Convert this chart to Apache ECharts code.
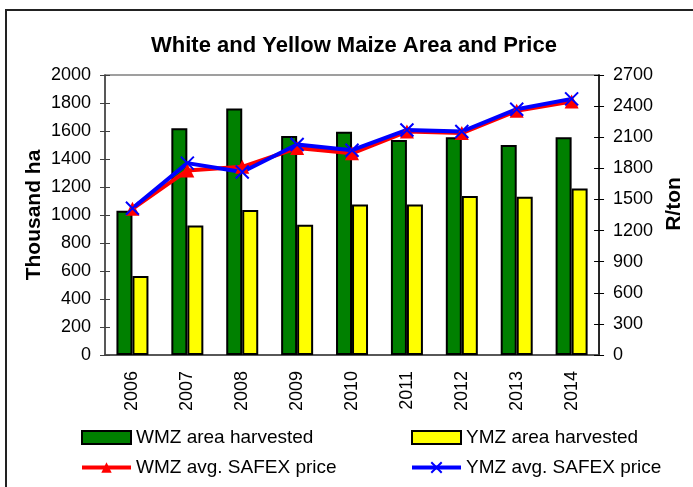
<!DOCTYPE html>
<html>
<head>
<meta charset="utf-8">
<script src="https://cdn.jsdelivr.net/npm/echarts@6/dist/echarts.min.js"></script>
<style>
  html, body { margin: 0; padding: 0; background: #fff; }
  #chart { width: 693px; height: 487px; }
</style>
</head>
<body>
<div id="chart"></div>
<script>
const years = ["2006", "2007", "2008", "2009", "2010", "2011", "2012", "2013", "2014"];
// thousand ha
const wmzArea = [1030, 1620, 1760, 1565, 1595, 1535, 1555, 1500, 1555];
const ymzArea = [565, 925, 1035, 930, 1075, 1075, 1135, 1130, 1190];
// R/ton
const wmzPrice = [1410, 1780, 1815, 1995, 1945, 2155, 2140, 2355, 2445];
const ymzPrice = [1415, 1850, 1765, 2030, 1975, 2170, 2155, 2370, 2470];

const font = "Liberation Sans, Arial, sans-serif";
const crossX = "path://M0,0L10,10M10,0L0,10";
const plain = v => String(v);

const chart = echarts.init(document.getElementById("chart"), null, { renderer: "canvas" });

const legendText = { fontFamily: font, fontSize: 19, color: "#000" };

chart.setOption({
  animation: false,
  backgroundColor: "#fff",
  title: {
    text: "White and Yellow Maize Area and Price",
    left: 349,
    top: 30,
    textAlign: "center",
    textStyle: { fontFamily: font, fontSize: 22, fontWeight: "bold", color: "#000" }
  },
  graphic: [{
    type: "rect",
    shape: { x: 6, y: 10, width: 720, height: 520 },
    style: { fill: null, stroke: "#222", lineWidth: 2 },
    silent: true
  }],
  grid: {
    left: 105, right: 92, top: 75, bottom: 132,
    show: true, borderColor: "#808080", borderWidth: 1.5
  },
  legend: [
    {
      data: [{ name: "WMZ area harvested", icon: "rect" }, "WMZ avg. SAFEX price"],
      orient: "vertical", left: 80, top: 428, padding: 0,
      itemWidth: 49, itemHeight: 13, itemGap: 11,
      lineStyle: { width: 4 },
      textStyle: legendText
    },
    {
      data: [{ name: "YMZ area harvested", icon: "rect" }, "YMZ avg. SAFEX price"],
      orient: "vertical", left: 410, top: 428, padding: 0,
      itemWidth: 49, itemHeight: 13, itemGap: 11,
      lineStyle: { width: 4 },
      textStyle: legendText
    }
  ],
  xAxis: [
    {
      type: "category", data: years, position: "bottom",
      axisLine: { lineStyle: { color: "#404040", width: 1.5 } },
      axisTick: { length: 5, lineStyle: { color: "#404040" } },
      axisLabel: { rotate: 90, margin: 16, fontFamily: font, fontSize: 18, color: "#000" }
    },
    {
      type: "category", data: years, position: "bottom",
      axisLine: { show: false },
      axisTick: { inside: true, length: 5, lineStyle: { color: "#404040" } },
      axisLabel: { show: false }
    }
  ],
  yAxis: [
    {
      type: "value", min: 0, max: 2000, interval: 200, position: "left",
      name: "Thousand ha", nameLocation: "middle", nameRotate: 90, nameGap: 60,
      nameMoveOverlap: false,
      nameTextStyle: { fontFamily: font, fontSize: 21, fontWeight: "bold", color: "#000" },
      axisLine: { show: true, lineStyle: { color: "#404040", width: 1.5 } },
      axisTick: { show: true, length: 5, lineStyle: { color: "#404040" } },
      axisLabel: { margin: 14, fontFamily: font, fontSize: 18, color: "#000", formatter: plain },
      splitLine: { show: false }
    },
    {
      type: "value", min: 0, max: 2700, interval: 300, position: "right",
      name: "R/ton", nameLocation: "middle", nameRotate: 90, nameGap: 58,
      nameTextStyle: { fontFamily: font, fontSize: 21, fontWeight: "bold", color: "#000", padding: [0, 0, 0, 22] },
      axisLine: { show: true, lineStyle: { color: "#000", width: 1.5 } },
      axisTick: { show: true, length: 5, lineStyle: { color: "#000" } },
      axisLabel: { margin: 14, fontFamily: font, fontSize: 18, color: "#000", formatter: plain },
      splitLine: { show: false }
    },
    {
      type: "value", min: 0, max: 2000, interval: 200, position: "left",
      axisLine: { show: false },
      axisTick: { show: true, inside: true, length: 5, lineStyle: { color: "#404040" } },
      axisLabel: { show: false }, splitLine: { show: false }
    },
    {
      type: "value", min: 0, max: 2700, interval: 300, position: "right",
      axisLine: { show: false },
      axisTick: { show: true, inside: true, length: 5, lineStyle: { color: "#000" } },
      axisLabel: { show: false }, splitLine: { show: false }
    }
  ],
  series: [
    {
      name: "WMZ area harvested", type: "bar", data: wmzArea,
      xAxisIndex: 0, yAxisIndex: 0, barWidth: 16, barGap: "0%",
      itemStyle: { color: "#008000", borderColor: "#000", borderWidth: 2 }
    },
    {
      name: "YMZ area harvested", type: "bar", data: ymzArea,
      xAxisIndex: 0, yAxisIndex: 0, barWidth: 16, barGap: "0%",
      itemStyle: { color: "#FFFF00", borderColor: "#000", borderWidth: 2 }
    },
    {
      name: "WMZ avg. SAFEX price", type: "line", data: wmzPrice,
      xAxisIndex: 0, yAxisIndex: 1,
      symbol: "triangle", symbolSize: 14,
      lineStyle: { color: "#FF0000", width: 4 },
      itemStyle: { color: "#FF0000" }
    },
    {
      name: "YMZ avg. SAFEX price", type: "line", data: ymzPrice,
      xAxisIndex: 0, yAxisIndex: 1,
      symbol: crossX, symbolSize: 13,
      lineStyle: { color: "#0000FF", width: 4 },
      itemStyle: { color: "#0000FF", borderColor: "#0000FF", borderWidth: 2 }
    }
  ]
});
</script>
</body>
</html>
